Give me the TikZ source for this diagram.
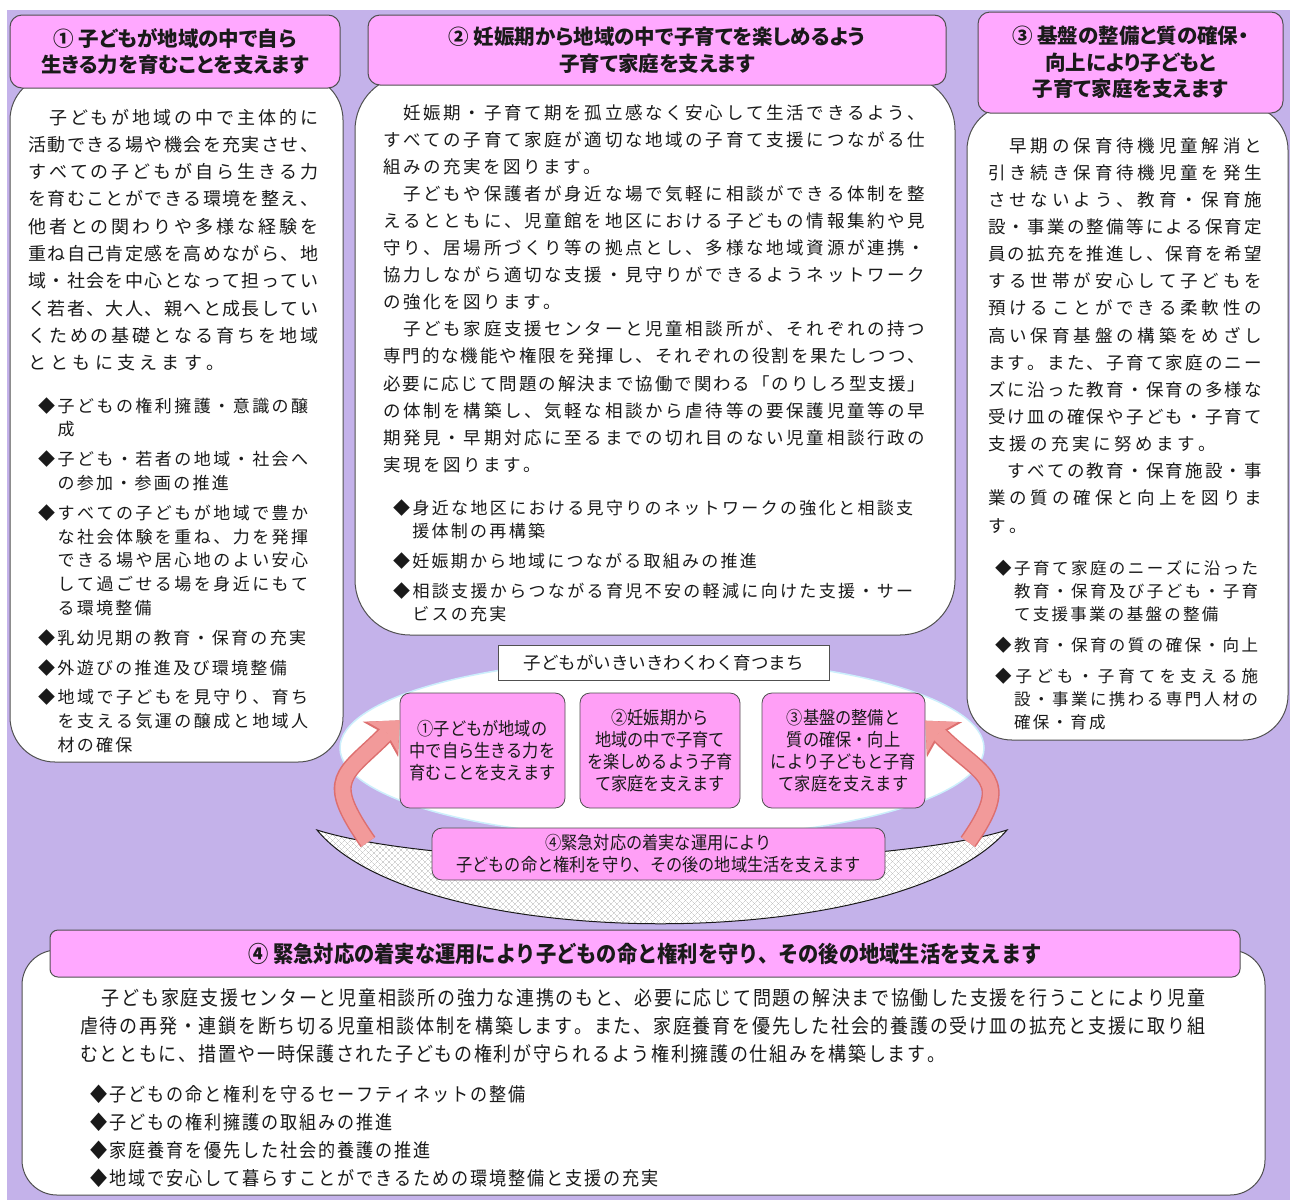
\documentclass[tikz,border=0pt]{standalone}
\usepackage{fontspec}
\setmainfont{Noto Sans CJK JP}
\newfontfamily\jpnarrow[FakeStretch=0.9]{Noto Sans CJK JP}
\newfontfamily\jpprop[RawFeature=+palt]{Noto Sans CJK JP}
\usetikzlibrary{arrows.meta,patterns.meta,shapes.geometric}
\definecolor{bgpurple}{HTML}{C4B2EA}
\definecolor{titlepink}{HTML}{FFA8FF}
\definecolor{midpink}{HTML}{FF9FF6}
\definecolor{edgegray}{HTML}{505050}
\definecolor{ink}{HTML}{1A1A1A}
\definecolor{arrowfill}{HTML}{F29A9A}
\definecolor{arrowedge}{HTML}{DD6F6F}

\newdimen\cgap
\newcommand\zw{\hbox to 1em{}}
\ExplSyntaxOn
\NewDocumentCommand\jl{m}{\par\hbox to \hsize{\tl_map_inline:nn{#1}{##1\hfil}\unskip}}
\NewDocumentCommand\pl{m}{\par\hbox{\tl_map_inline:nn{#1}{##1\kern\cgap}}}
\ExplSyntaxOff

\begin{document}
\begin{tikzpicture}[x=1pt,y=-1pt,
    headbox/.style={draw=edgegray,line width=1pt,fill=titlepink,rounded corners=12pt,inner sep=0pt,
      align=center,text=ink,font=\jpprop\bfseries\fontsize{20.5}{26.5}\selectfont},
    bodybox/.style={draw=edgegray,line width=1pt,fill=white,inner sep=0pt},
    textblock/.style={anchor=base west,inner sep=0pt,text=ink},
    midbox/.style={draw=edgegray,line width=0.8pt,fill=midpink,rounded corners=10pt,inner sep=0pt,
      align=center,text=ink,font=\jpnarrow\fontsize{18}{22}\selectfont},
    arrowrim/.style={line width=18pt,draw=arrowedge,-{Stealth[length=27pt,width=50pt,inset=7pt,line width=0pt]}},
    arrowbody/.style={line width=15pt,draw=arrowfill,-{Stealth[length=24pt,width=44pt,inset=6pt,line width=0pt]}}]

  \useasboundingbox (0,0) rectangle (1290,1200);
  \fill[bgpurple] (7,10) rectangle (1290,1200);

  % three upper panels
  \node[bodybox,rounded corners=45pt,minimum width=333pt,minimum height=687pt] (body1) at (176.5,418.5) {};
  \node[bodybox,rounded corners=55pt,minimum width=600pt,minimum height=560pt] (body2) at (655,355) {};
  \node[bodybox,rounded corners=45pt,minimum width=321pt,minimum height=635pt] (body3) at (1127.5,422.5) {};

  \node[headbox,minimum width=330pt,minimum height=73pt] (head1) at (175,51.5)
    {① 子どもが地域の中で自ら\\生きる力を育むことを支えます};
  \node[headbox,minimum width=578pt,minimum height=70pt] (head2) at (657,50)
    {② 妊娠期から地域の中で子育てを楽しめるよう\\子育て家庭を支えます};
  \node[headbox,minimum width=305pt,minimum height=101pt] (head3) at (1130.5,62.5)
    {③ 基盤の整備と質の確保・\\向上により子どもと\\子育て家庭を支えます};

  \node[textblock,text width=290pt,font=\fontsize{18}{27.3}\selectfont] (text1) at (28,96.7) {\cgap=4.3pt
    \jl{\zw 子どもが地域の中で主体的に}
    \jl{活動できる場や機会を充実させ、}
    \jl{すべての子どもが自ら生きる力}
    \jl{を育むことができる環境を整え、}
    \jl{他者との関わりや多様な経験を}
    \jl{重ね自己肯定感を高めながら、地}
    \jl{域・社会を中心となって担ってい}
    \jl{く若者、大人、親へと成長してい}
    \jl{くための基礎となる育ちを地域}
    \pl{とともに支えます。}};
  \node[textblock,text width=270pt,font=\fontsize{17}{23.8}\selectfont] (list1) at (38,388.2) {\cgap=2.3pt
    \jl{◆子どもの権利擁護・意識の醸}
    \pl{\zw 成}
    \vskip6pt
    \jl{◆子ども・若者の地域・社会へ}
    \pl{\zw の参加・参画の推進}
    \vskip6pt
    \jl{◆すべての子どもが地域で豊か}
    \jl{\zw な社会体験を重ね、力を発揮}
    \jl{\zw できる場や居心地のよい安心}
    \jl{\zw して過ごせる場を身近にもて}
    \pl{\zw る環境整備}
    \vskip6pt
    \pl{◆乳幼児期の教育・保育の充実}
    \vskip6pt
    \pl{◆外遊びの推進及び環境整備}
    \vskip6pt
    \jl{◆地域で子どもを見守り、育ち}
    \jl{\zw を支える気運の醸成と地域人}
    \pl{\zw 材の確保}};

  \node[textblock,text width=542pt,font=\fontsize{17.5}{27.1}\selectfont] (text2) at (383,91.9) {\cgap=2.57pt
    \jl{\zw 妊娠期・子育て期を孤立感なく安心して生活できるよう、}
    \jl{すべての子育て家庭が適切な地域の子育て支援につながる仕}
    \pl{組みの充実を図ります。}
    \jl{\zw 子どもや保護者が身近な場で気軽に相談ができる体制を整}
    \jl{えるとともに、児童館を地区における子どもの情報集約や見}
    \jl{守り、居場所づくり等の拠点とし、多様な地域資源が連携・}
    \jl{協力しながら適切な支援・見守りができるようネットワーク}
    \pl{の強化を図ります。}
    \jl{\zw 子ども家庭支援センターと児童相談所が、それぞれの持つ}
    \jl{専門的な機能や権限を発揮し、それぞれの役割を果たしつつ、}
    \jl{必要に応じて問題の解決まで協働で関わる「のりしろ型支援」}
    \jl{の体制を構築し、気軽な相談から虐待等の要保護児童等の早}
    \jl{期発見・早期対応に至るまでの切れ目のない児童相談行政の}
    \pl{実現を図ります。}};
  \node[textblock,text width=520pt,font=\fontsize{17}{23}\selectfont] (list2) at (393,491) {\cgap=2.26pt
    \jl{◆身近な地区における見守りのネットワークの強化と相談支}
    \pl{\zw 援体制の再構築}
    \vskip7pt
    \pl{◆妊娠期から地域につながる取組みの推進}
    \vskip7pt
    \jl{◆相談支援からつながる育児不安の軽減に向けた支援・サー}
    \pl{\zw ビスの充実}};

  \node[textblock,text width=274pt,font=\fontsize{17.5}{27.15}\selectfont] (text3) at (988,124.85) {\cgap=3.5pt
    \jl{\zw 早期の保育待機児童解消と}
    \jl{引き続き保育待機児童を発生}
    \jl{させないよう、教育・保育施}
    \jl{設・事業の整備等による保育定}
    \jl{員の拡充を推進し、保育を希望}
    \jl{する世帯が安心して子どもを}
    \jl{預けることができる柔軟性の}
    \jl{高い保育基盤の構築をめざし}
    \jl{ます。また、子育て家庭のニー}
    \jl{ズに沿った教育・保育の多様な}
    \jl{受け皿の確保や子ども・子育て}
    \pl{支援の充実に努めます。}
    \jl{\zw すべての教育・保育施設・事}
    \jl{業の質の確保と向上を図りま}
    \pl{す。}};
  \node[textblock,text width=263pt,font=\fontsize{16.5}{23}\selectfont] (list3) at (995,551) {\cgap=2.3pt
    \jl{◆子育て家庭のニーズに沿った}
    \jl{\zw 教育・保育及び子ども・子育}
    \pl{\zw て支援事業の基盤の整備}
    \vskip8pt
    \jl{◆教育・保育の質の確保・向上}
    \vskip8pt
    \jl{◆子ども・子育てを支える施}
    \jl{\zw 設・事業に携わる専門人材の}
    \pl{\zw 確保・育成}};

  % the town in the middle
  \node[ellipse,draw=cyan!20,line width=1.5pt,fill=white,minimum width=644pt,minimum height=180pt] (town) at (662,748) {};
  \fill[white] (317,830) .. controls (450,872) and (872,872) .. (1007,830)
    .. controls (900,955) and (420,955) .. (317,830) -- cycle;
  \fill[pattern={Lines[angle=45,distance=4pt,line width=0.35pt]},pattern color=gray!55] (317,830) .. controls (450,872) and (872,872) .. (1007,830)
    .. controls (900,955) and (420,955) .. (317,830) -- cycle;
  \fill[pattern={Lines[angle=-45,distance=4pt,line width=0.35pt]},pattern color=gray!55] (317,830) .. controls (450,872) and (872,872) .. (1007,830)
    .. controls (900,955) and (420,955) .. (317,830) -- cycle;
  \draw[ink,line width=1pt] (317,830) .. controls (450,872) and (872,872) .. (1007,830)
    .. controls (900,955) and (420,955) .. (317,830) -- cycle;

  \node[draw=edgegray,line width=0.8pt,fill=white,minimum width=331pt,minimum height=35pt,text=ink,
    font=\fontsize{17.5}{20}\selectfont] (townlabel) at (663.5,662.5) {子どもがいきいきわくわく育つまち};

  \path
    (482.5,750.5) node[midbox,minimum width=165pt,minimum height=115pt] (boxA) {①子どもが地域の\\中で自ら生きる力を\\育むことを支えます}
    (660,750.5) node[midbox,minimum width=160pt,minimum height=115pt] (boxB) {②妊娠期から\\地域の中で子育て\\を楽しめるよう子育\\て家庭を支えます}
    (843.5,750.5) node[midbox,minimum width=163pt,minimum height=115pt] (boxC) {③基盤の整備と\\質の確保・向上\\により子どもと子育\\て家庭を支えます}
    (658.5,854) node[midbox,minimum width=453pt,minimum height=52pt] (boxD) {④緊急対応の着実な運用により\\子どもの命と権利を守り、その後の地域生活を支えます}
    ;

  \coordinate (lt) at (368,842);
  \coordinate (rt) at (968,842);
  \foreach \from/\to/\o/\i in {lt/boxA.160/125/225, rt/boxC.20/55/-45} {
    \draw[arrowrim] (\from) to[out=\o,in=\i,looseness=1.6] (\to);
    \draw[arrowbody] (\from) to[out=\o,in=\i,looseness=1.6] (\to);
  }

  % bottom panel
  \node[bodybox,rounded corners=35pt,minimum width=1243pt,minimum height=245pt] (body4) at (643.5,1072.5) {};
  \node[headbox,rounded corners=8pt,minimum width=1190pt,minimum height=47pt,font=\jpnarrow\bfseries\fontsize{22.5}{26}\selectfont] (head4) at (645,953.5)
    {④ 緊急対応の着実な運用により子どもの命と権利を守り、その後の地域生活を支えます};
  \node[textblock,text width=1125pt,font=\jpnarrow\fontsize{20}{28}\selectfont] (text4) at (80,977) {\cgap=1.7pt
    \jl{\zw 子ども家庭支援センターと児童相談所の強力な連携のもと、必要に応じて問題の解決まで協働した支援を行うことにより児童}
    \jl{虐待の再発・連鎖を断ち切る児童相談体制を構築します。また、家庭養育を優先した社会的養護の受け皿の拡充と支援に取り組}
    \pl{むとともに、措置や一時保護された子どもの権利が守られるよう権利擁護の仕組みを構築します。}};
  \node[textblock,text width=1000pt,font=\jpnarrow\fontsize{19}{28}\selectfont] (list4) at (90,1073) {\cgap=1.9pt
    \pl{◆子どもの命と権利を守るセーフティネットの整備}
    \pl{◆子どもの権利擁護の取組みの推進}
    \pl{◆家庭養育を優先した社会的養護の推進}
    \pl{◆地域で安心して暮らすことができるための環境整備と支援の充実}};
\end{tikzpicture}
\end{document}
